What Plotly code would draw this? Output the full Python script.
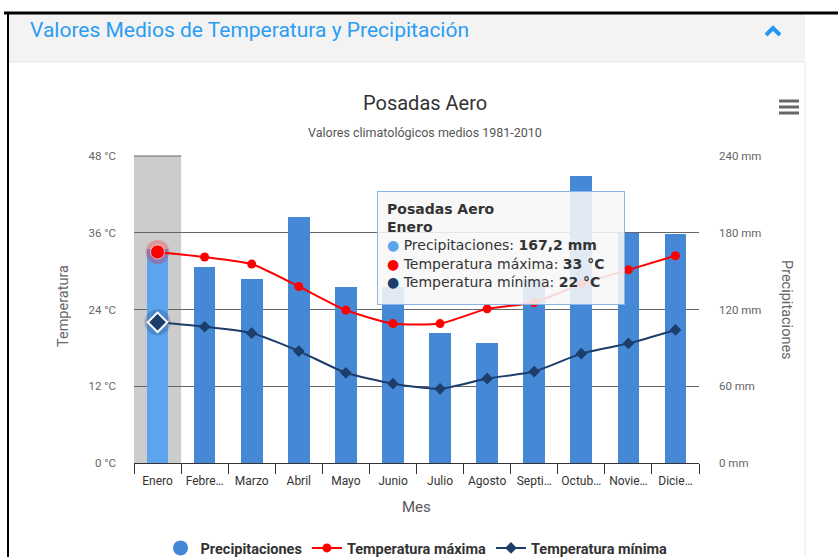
import plotly.graph_objects as go

# ---------------- data ----------------
months = ["Enero", "Febrero", "Marzo", "Abril", "Mayo", "Junio", "Julio",
          "Agosto", "Septiembre", "Octubre", "Noviembre", "Diciembre"]
tick_labels = ["Enero", "Febre…", "Marzo", "Abril", "Mayo", "Junio", "Julio",
               "Agosto", "Septi…", "Octub…", "Novie…", "Dicie…"]
precip = [167.2, 153.5, 143.6, 192.0, 137.6, 137.6, 102.0, 93.6, 144.0, 224.6, 179.6, 178.8]
tmax = [33, 32.2, 31.1, 27.6, 23.9, 21.8, 21.8, 24.1, 25.1, 28.0, 30.2, 32.4]
tmin = [22, 21.3, 20.3, 17.5, 14.1, 12.4, 11.6, 13.2, 14.3, 17.1, 18.7, 20.8]
temp_ticks = [0, 12, 24, 36, 48]
temp_labels = ["0 °C", "12 °C", "24 °C", "36 °C", "48 °C"]
precip_ticks = [0, 60, 120, 180, 240]
precip_labels = ["0 mm", "60 mm", "120 mm", "180 mm", "240 mm"]
hover_idx = 0

# ---------------- styling ----------------
W, H = 838, 557
L, R, T, B = 134, 699, 156, 463
BLUE = "#4589d6"
BLUE_HI = "#5ca5ee"
RED = "#ff0000"
NAVY = "#1d3d6b"
GRID = "#666666"


def px(x):
    return (x - L) / (R - L)


def py(y):
    return (B - y) / (B - T)


bar_colors = [BLUE_HI if i == hover_idx else BLUE for i in range(len(months))]

fig = go.Figure()

fig.add_trace(go.Bar(x=months, y=precip, yaxis="y", marker=dict(color=bar_colors, line=dict(width=0)),
                     width=0.46, showlegend=False, hoverinfo="skip"))

# legend-only entry for precipitation (circle symbol like the reference)
fig.add_trace(go.Scatter(x=[months[0]], y=[None], mode="markers", name="Precipitaciones",
                         marker=dict(color=BLUE, size=15, symbol="circle"), yaxis="y",
                         legendrank=1))

fig.add_trace(go.Scatter(x=months, y=tmax, yaxis="y2", mode="lines+markers", name="Temperatura máxima",
                         line=dict(color=RED, width=2, shape="spline", smoothing=0.6),
                         marker=dict(color=RED, size=9, symbol="circle"), legendrank=2))
fig.add_trace(go.Scatter(x=months, y=tmin, yaxis="y2", mode="lines+markers", name="Temperatura mínima",
                         line=dict(color=NAVY, width=2, shape="spline", smoothing=0.6),
                         marker=dict(color=NAVY, size=9, symbol="diamond"), legendrank=3))

# hover highlight markers
hx = [months[hover_idx]]
fig.add_trace(go.Scatter(x=hx, y=[tmax[hover_idx]], yaxis="y2", mode="markers", showlegend=False,
                         marker=dict(color="rgba(255,0,0,0.25)", size=24), hoverinfo="skip"))
fig.add_trace(go.Scatter(x=hx, y=[tmax[hover_idx]], yaxis="y2", mode="markers", showlegend=False,
                         marker=dict(color=RED, size=14, line=dict(color="rgba(255,255,255,0.6)", width=1)),
                         hoverinfo="skip"))
fig.add_trace(go.Scatter(x=hx, y=[tmin[hover_idx]], yaxis="y2", mode="markers", showlegend=False,
                         marker=dict(color="rgba(29,61,107,0.25)", size=26, symbol="circle"), hoverinfo="skip"))
fig.add_trace(go.Scatter(x=hx, y=[tmin[hover_idx]], yaxis="y2", mode="markers", showlegend=False,
                         marker=dict(color=NAVY, size=15, symbol="diamond", line=dict(color="white", width=2)),
                         hoverinfo="skip"))

shapes = [
    # page frame
    dict(type="rect", xref="paper", yref="paper", x0=px(9), x1=px(805), y0=py(14), y1=py(62),
         fillcolor="#f3f3f3", line=dict(width=0), layer="below"),
    dict(type="line", xref="paper", yref="paper", x0=px(9), x1=px(805), y0=py(62), y1=py(62),
         line=dict(color="#e4e4e4", width=1)),
    dict(type="line", xref="paper", yref="paper", x0=px(805), x1=px(805), y0=py(62), y1=py(557),
         line=dict(color="#e8e8e8", width=1)),
    dict(type="line", xref="paper", yref="paper", x0=px(4), x1=px(838), y0=py(13), y1=py(13),
         line=dict(color="black", width=3)),
    dict(type="line", xref="paper", yref="paper", x0=px(8), x1=px(8), y0=py(12), y1=py(557),
         line=dict(color="black", width=2)),
    # chevron
    dict(type="path", xref="paper", yref="paper",
         path=f"M {px(766)} {py(35)} L {px(773)} {py(28)} L {px(780)} {py(35)}",
         line=dict(color="#2196f3", width=4)),
    # hamburger
    dict(type="line", xref="paper", yref="paper", x0=px(779), x1=px(799), y0=py(101), y1=py(101),
         line=dict(color="#666666", width=3)),
    dict(type="line", xref="paper", yref="paper", x0=px(779), x1=px(799), y0=py(107), y1=py(107),
         line=dict(color="#666666", width=3)),
    dict(type="line", xref="paper", yref="paper", x0=px(779), x1=px(799), y0=py(113), y1=py(113),
         line=dict(color="#666666", width=3)),
    # crosshair band
    dict(type="rect", xref="x", yref="paper", x0=hover_idx - 0.5, x1=hover_idx + 0.5, y0=0, y1=1,
         fillcolor="#cccccc", line=dict(width=0), layer="between"),
    dict(type="line", xref="x", yref="paper", x0=hover_idx - 0.5, x1=hover_idx + 0.5, y0=1, y1=1,
         line=dict(color=GRID, width=1), layer="between"),
]

tooltip = (
    "<b>Posadas Aero</b><br><b>Enero</b><br>"
    f"<span style='color:{BLUE_HI}'>●</span> Precipitaciones: <b>167,2 mm</b><br>"
    f"<span style='color:{RED}'>●</span> Temperatura máxima: <b>33 °C</b><br>"
    f"<span style='color:{NAVY}'>●</span> Temperatura mínima: <b>22 °C</b>"
)

annotations = [
    dict(text="Valores Medios de Temperatura y Precipitación", xref="paper", yref="paper",
         x=px(28), y=py(30), xanchor="left", yanchor="middle", showarrow=False,
         font=dict(size=21, color="#2a9df4", family="Roboto")),
    dict(text="Posadas Aero", xref="paper", yref="paper", x=px(425), y=py(103),
         xanchor="center", yanchor="middle", showarrow=False, font=dict(size=20, color="#333333")),
    dict(text="Valores climatológicos medios 1981-2010", xref="paper", yref="paper", x=px(425), y=py(132),
         xanchor="center", yanchor="middle", showarrow=False, font=dict(size=12.5, color="#555555")),
    dict(text="Temperatura", xref="paper", yref="paper", x=px(63), y=py(306), textangle=-90,
         xanchor="center", yanchor="middle", showarrow=False, font=dict(size=14.5, color="#666666")),
    dict(text="Precipitaciones", xref="paper", yref="paper", x=px(787), y=py(310), textangle=90,
         xanchor="center", yanchor="middle", showarrow=False, font=dict(size=14.5, color="#666666")),
    dict(text="Mes", xref="paper", yref="paper", x=px(416), y=py(507),
         xanchor="center", yanchor="middle", showarrow=False, font=dict(size=15, color="#555555")),
    dict(text=tooltip, xref="paper", yref="paper", x=px(377), y=py(191), xanchor="left", yanchor="top",
         showarrow=False, align="left", valign="top", width=228, height=94, borderpad=9,
         bgcolor="rgba(247,247,247,0.88)", bordercolor="#8ab4e8", borderwidth=1,
         font=dict(size=14, color="#333333", family="DejaVu Sans")),
]

fig.update_layout(
    width=W, height=H,
    margin=dict(l=L, r=W - R, t=T, b=H - B, autoexpand=False),
    paper_bgcolor="white", plot_bgcolor="white",
    font=dict(family="Roboto", color="#666666"),
    bargap=0,
    xaxis=dict(type="category", range=[-0.5, 11.5], tickvals=months, ticktext=tick_labels,
               categoryorder="array", categoryarray=months, showline=True, tickangle=0,
               linecolor="#333333", linewidth=1, ticks="outside", tickson="boundaries", ticklen=10,
               ticklabelstandoff=7,
               tickcolor="#333333", tickfont=dict(size=12, color="#333333"), showgrid=False),
    yaxis=dict(side="right", range=[0, 240], tickvals=precip_ticks, ticktext=precip_labels,
               showgrid=True, gridcolor=GRID, gridwidth=1, zeroline=False,
               ticklabelstandoff=19, tickfont=dict(size=11.5, color="#666666")),
    yaxis2=dict(side="left", overlaying="y", range=[0, 48], tickvals=temp_ticks, ticktext=temp_labels,
                showgrid=False, zeroline=False, ticklabelstandoff=17,
                tickfont=dict(size=11.5, color="#666666")),
    legend=dict(orientation="h", x=0.5, xanchor="center", y=py(548), yanchor="middle",
                font=dict(size=14.5, color="#333333", weight="bold"), traceorder="normal"),
    shapes=shapes,
    annotations=annotations,
    showlegend=True,
)

fig.write_html("out.html", config={"displayModeBar": False},
               post_script="document.body.style.margin='0';")
